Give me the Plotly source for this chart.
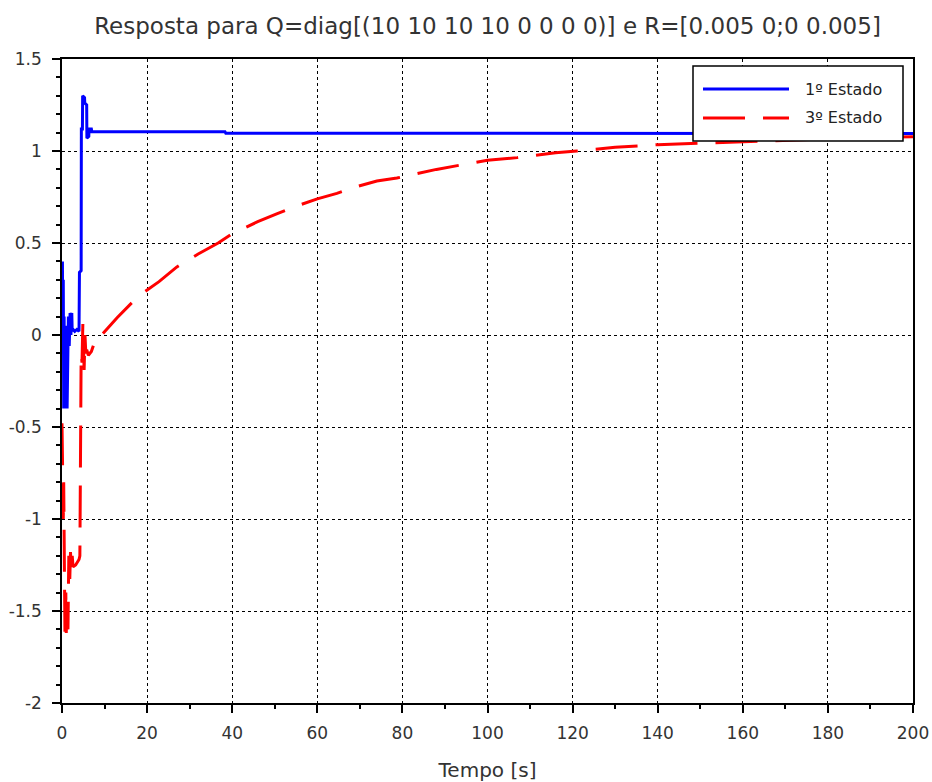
import plotly.graph_objects as go

# ---- data ----
t_e1 = [0, 0.05, 0.1, 0.2, 0.3, 0.4, 0.5, 0.6, 0.8, 0.9, 1.1, 1.2, 1.4, 1.5, 1.7, 1.9, 2.1, 2.3, 2.4,
        2.6, 3.0, 3.5, 4.0, 4.1, 4.5, 4.55, 4.8, 4.85, 5.3, 5.35, 5.8, 5.85, 6.3, 6.35, 6.9, 7.0,
        20, 38.3, 38.5, 100, 200]
y_e1 = [0.1, 0.2, 0.4, -0.1, 0.3, -0.4, 0.1, -0.4, 0.05, -0.4, 0.0, -0.4, -0.05, 0.1, -0.06, 0.12, 0.0, 0.12, 0.02,
        0.03, 0.02, 0.03, 0.02, 0.34, 0.35, 1.12, 1.12, 1.30, 1.29, 1.26, 1.25, 1.07, 1.08, 1.12, 1.12, 1.105,
        1.105, 1.105, 1.097, 1.097, 1.095]

t_e3 = [0, 0.1, 0.15, 0.3, 0.4, 0.5, 0.6, 0.7, 0.9, 1.0, 1.2, 1.4, 1.6, 1.8, 2.0, 2.2, 2.4, 2.6, 3.2, 4.0,
        4.2, 4.5, 4.7, 4.9, 5.2, 5.4, 5.6, 5.8, 6.2, 6.9, 8.2, 9.3, 13, 17.9, 22.8, 27, 32, 36.7, 40, 46, 50.6,
        55, 60, 64.6, 69, 74, 78.7, 83, 88, 94, 100, 107, 116, 121, 130, 140, 150, 160, 170, 180, 190, 200]
y_e3 = [-0.48, -0.7, -0.5, -1.0, -0.8, -1.35, -1.1, -1.65, -1.4, -1.62, -1.45, -1.6, -1.2, -1.35, -1.18, -1.3, -1.2, -1.26, -1.25, -1.22,
        -1.2, -0.1, -0.15, 0.06, -0.19, 0.0, -0.1, -0.08, -0.11, -0.09, 0.0, 0.0, 0.095, 0.21, 0.29, 0.37, 0.44, 0.50, 0.55, 0.616, 0.66,
        0.70, 0.74, 0.77, 0.805, 0.837, 0.853, 0.875, 0.90, 0.925, 0.95, 0.964, 0.99, 1.0, 1.02, 1.034, 1.042, 1.05, 1.06, 1.068, 1.074, 1.078]

names = ["1º Estado", "3º Estado"]
title = "Resposta para Q=diag[(10 10 10 10 0 0 0 0)] e R=[0.005 0;0 0.005]"
x_ticks = [0, 20, 40, 60, 80, 100, 120, 140, 160, 180, 200]
y_ticks = [-2, -1.5, -1, -0.5, 0, 0.5, 1, 1.5]
y_ticklabels = ["-2", "-1.5", "-1", "-0.5", "0", "0.5", "1", "1.5"]

W, H = 932, 782
L, R, T, B = 62, 19, 59, 79
pw, ph = W - L - R, H - T - B

def px(x):
    return (x - L) / pw

def py(y):
    return (H - B - y) / ph

DASH = "42px,18px"
font = "DejaVu Sans, sans-serif"

fig = go.Figure()
fig.add_trace(go.Scatter(x=t_e1, y=y_e1, mode="lines", name=names[0],
                         line=dict(color="#0000ff", width=3), showlegend=False))
fig.add_trace(go.Scatter(x=t_e3, y=y_e3, mode="lines", name=names[1],
                         line=dict(color="#ff0000", width=3, dash=DASH), showlegend=False))

axis_common = dict(showline=True, mirror=True, linecolor="black", linewidth=1.5,
                   ticks="outside", tickcolor="black", tickwidth=1.5, ticklen=8,
                   showgrid=True, gridcolor="black", griddash="dot", gridwidth=1,
                   zeroline=False, automargin=False,
                   tickfont=dict(family=font, size=17, color="#333333"))

fig.update_xaxes(range=[0, 200], tickvals=x_ticks, ticklabelstandoff=6,
                 minor=dict(dtick=10, ticklen=4, tickcolor="black", showgrid=False, ticks="outside"),
                 title=dict(text="Tempo [s]", font=dict(family=font, size=20, color="#333333"), standoff=30),
                 **axis_common)
fig.update_yaxes(range=[-2, 1.5], tickvals=y_ticks, ticktext=y_ticklabels, ticklabelstandoff=7,
                 minor=dict(dtick=0.1, tick0=0, ticklen=4, tickcolor="black", showgrid=False, ticks="outside"),
                 **axis_common)

# legend drawn as box
shapes = [
    dict(type="rect", xref="paper", yref="paper", x0=px(693), x1=px(903), y0=py(141), y1=py(66),
         fillcolor="white", line=dict(color="black", width=1.5), layer="above"),
    dict(type="line", xref="paper", yref="paper", x0=px(703), x1=px(789), y0=py(89), y1=py(89),
         line=dict(color="#0000ff", width=3), layer="above"),
    dict(type="line", xref="paper", yref="paper", x0=px(703), x1=px(789), y0=py(118), y1=py(118),
         line=dict(color="#ff0000", width=3, dash=DASH), layer="above"),
]
annotations = [
    dict(text=names[0], xref="paper", yref="paper", x=px(803), y=py(89), xanchor="left", yanchor="middle",
         showarrow=False, font=dict(family=font, size=16, color="#222222")),
    dict(text=names[1], xref="paper", yref="paper", x=px(803), y=py(118), xanchor="left", yanchor="middle",
         showarrow=False, font=dict(family=font, size=16, color="#222222")),
]

fig.update_layout(
    width=W, height=H, margin=dict(l=L, r=R, t=T, b=B, autoexpand=False),
    paper_bgcolor="white", plot_bgcolor="white",
    title=dict(text=title, x=(L + pw / 2) / W, xanchor="center", y=1 - 26 / H, yanchor="middle",
               font=dict(family=font, size=23, color="#333333")),
    shapes=shapes, annotations=annotations, showlegend=False,
)

fig.write_html("out.html")
